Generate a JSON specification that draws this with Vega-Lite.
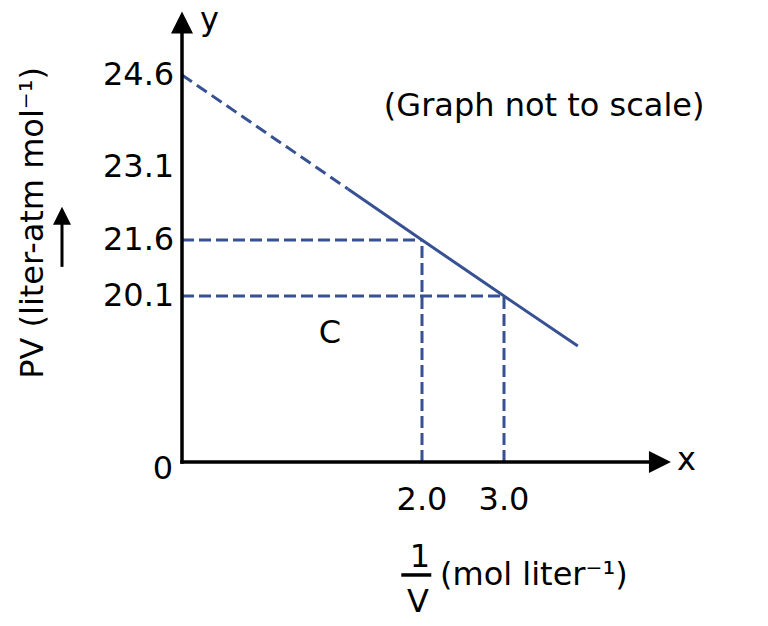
{
  "$schema": "https://vega.github.io/schema/vega-lite/v6.json",
  "width": 768,
  "height": 626,
  "autosize": "none",
  "padding": 0,
  "background": "white",
  "config": {
    "view": {"stroke": null},
    "text": {"font": "DejaVu Sans", "fontSize": 32, "color": "black"}
  },
  "encoding": {
    "x": {"field": "x", "type": "quantitative", "axis": null,
      "scale": {"domain": [0, 2, 3], "range": [182, 422, 504], "nice": false, "zero": false, "clamp": false}},
    "y": {"field": "y", "type": "quantitative", "axis": null,
      "scale": {"domain": [0, 18.75, 20.1, 21.6, 22.525, 23.1, 24.6, 26], "range": [462, 346, 296, 240, 189, 167, 75, 15], "nice": false, "zero": false, "clamp": false}}
  },
  "layer": [
    {
      "data": {"values": [
        {"x": 0, "y": 21.6, "x2": 2, "y2": 21.6},
        {"x": 0, "y": 20.1, "x2": 3, "y2": 20.1},
        {"x": 2, "y": 0, "x2": 2, "y2": 21.6},
        {"x": 3, "y": 0, "x2": 3, "y2": 20.1}
      ]},
      "mark": {"type": "rule", "color": "#375192", "strokeWidth": 3, "strokeDash": [12, 5]},
      "encoding": {"x2": {"field": "x2"}, "y2": {"field": "y2"}}
    },
    {
      "data": {"values": [{"x": 0, "y": 24.6}, {"x": 1.383, "y": 22.525}]},
      "mark": {"type": "line", "color": "#375192", "strokeWidth": 3, "strokeDash": [12, 6]}
    },
    {
      "data": {"values": [{"x": 1.383, "y": 22.525}, {"x": 2, "y": 21.6}, {"x": 3, "y": 20.1}, {"x": 3.9, "y": 18.75}]},
      "mark": {"type": "line", "color": "#375192", "strokeWidth": 3}
    },
    {
      "data": {"values": [
        {"x": 0, "y": 0, "x2": 4.9, "y2": 0},
        {"x": 0, "y": 0, "x2": 0, "y2": 25.8},
        {"x": 1.842, "y": -18.26, "x2": 2.092, "y2": -18.26}
      ]},
      "mark": {"type": "rule", "color": "black", "strokeWidth": 3.5, "strokeCap": "square"},
      "encoding": {"x2": {"field": "x2"}, "y2": {"field": "y2"}}
    },
    {
      "data": {"values": [{"x": -1.0, "y": 20.88, "x2": -1.0, "y2": 21.96}]},
      "mark": {"type": "rule", "color": "black", "strokeWidth": 3},
      "encoding": {"x2": {"field": "x2"}, "y2": {"field": "y2"}}
    },
    {
      "data": {"values": [{"x": 0, "y": 25.825}]},
      "mark": {"type": "point", "shape": "M0,-1L-1,1L1,1Z", "size": 484, "filled": true, "color": "black", "opacity": 1}
    },
    {
      "data": {"values": [{"x": -1.0, "y": 22.04}]},
      "mark": {"type": "point", "shape": "M0,-1L-1,1L1,1Z", "size": 324, "filled": true, "color": "black", "opacity": 1}
    },
    {
      "data": {"values": [{"x": 4.902, "y": 0}]},
      "mark": {"type": "point", "shape": "M1,0L-1,-1L-1,1Z", "size": 484, "filled": true, "color": "black", "opacity": 1}
    },
    {
      "data": {"values": [
        {"x": -0.065, "y": 24.6, "t": "24.6"},
        {"x": -0.065, "y": 23.1, "t": "23.1"},
        {"x": -0.065, "y": 21.6, "t": "21.6"},
        {"x": -0.065, "y": 20.1, "t": "20.1"},
        {"x": -0.075, "y": -1.13, "t": "0"}
      ]},
      "mark": {"type": "text", "align": "right", "baseline": "middle"},
      "encoding": {"text": {"field": "t"}}
    },
    {
      "data": {"values": [
        {"x": 2, "y": -6.1, "t": "2.0"},
        {"x": 3, "y": -6.1, "t": "3.0"},
        {"x": 1.233, "y": 19.1, "t": "C"},
        {"x": 3.49, "y": 24.09, "t": "(Graph not to scale)"},
        {"x": 1.983, "y": -15.35, "t": "1"},
        {"x": 1.967, "y": -22.6, "t": "V"}
      ]},
      "mark": {"type": "text", "align": "center", "baseline": "middle"},
      "encoding": {"text": {"field": "t"}}
    },
    {
      "data": {"values": [{"x": 2.22, "y": -18.26, "t": "(mol liter⁻¹)"}]},
      "mark": {"type": "text", "align": "left", "baseline": "middle"},
      "encoding": {"text": {"field": "t"}}
    },
    {
      "data": {"values": [
        {"x": 5.11, "y": -1.29, "t": "x"},
        {"x": 0.15, "y": 25.65, "t": "y"}
      ]},
      "mark": {"type": "text", "align": "left", "baseline": "alphabetic"},
      "encoding": {"text": {"field": "t"}}
    },
    {
      "data": {"values": [{"x": -1.242, "y": 21.91, "t": "PV (liter-atm  mol⁻¹)"}]},
      "mark": {"type": "text", "align": "center", "baseline": "middle", "angle": 270, "fontSize": 32},
      "encoding": {"text": {"field": "t"}}
    }
  ]
}
